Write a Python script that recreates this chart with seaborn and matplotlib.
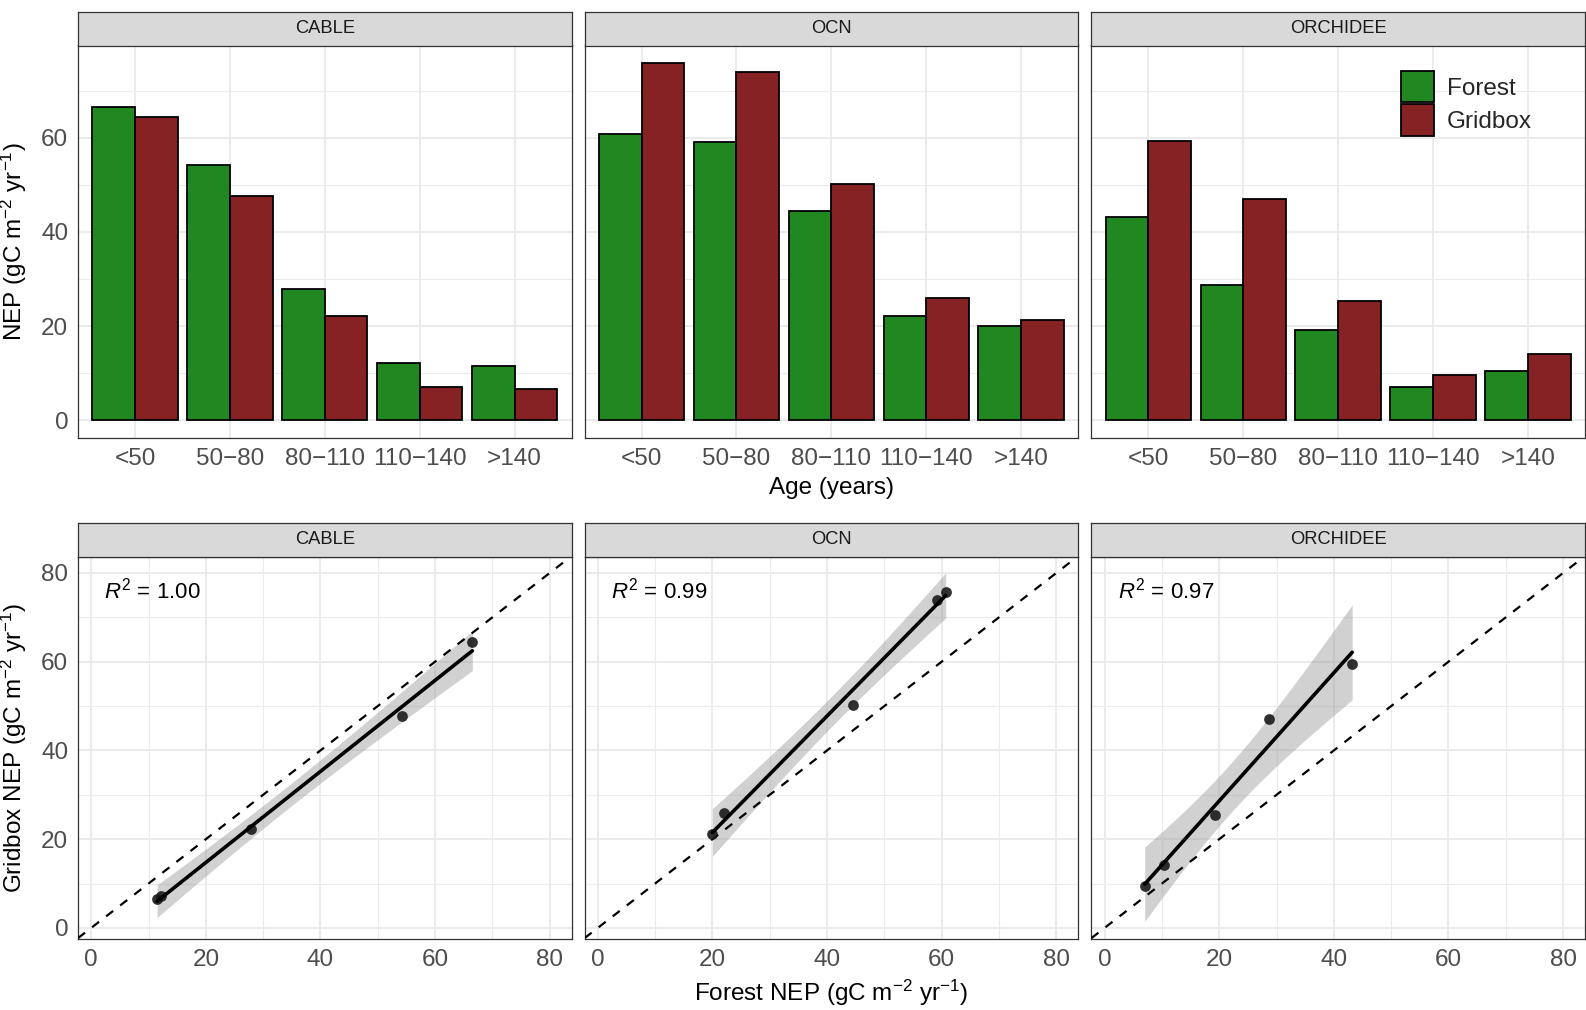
import numpy as np
import pandas as pd
import matplotlib
matplotlib.use("Agg")
import matplotlib.pyplot as plt
import seaborn as sns
from matplotlib.patches import Patch

# ---------------- data ----------------
models = ["CABLE", "OCN", "ORCHIDEE"]
age_classes = ["<50", "50\u221280", "80\u2212110", "110\u2212140", ">140"]
forest_cable = [66.5, 54.3, 27.9, 12.2, 11.5]
gridbox_cable = [64.4, 47.7, 22.2, 7.1, 6.6]
forest_ocn = [60.7, 59.1, 44.5, 22.1, 20.0]
gridbox_ocn = [75.8, 74.0, 50.2, 26.0, 21.2]
forest_orchidee = [43.2, 28.7, 19.2, 7.0, 10.4]
gridbox_orchidee = [59.4, 47.0, 25.4, 9.5, 14.1]
r2_labels = ["1.00", "0.99", "0.97"]
series_names = ["Forest", "Gridbox"]

forest = {"CABLE": forest_cable, "OCN": forest_ocn, "ORCHIDEE": forest_orchidee}
gridbox = {"CABLE": gridbox_cable, "OCN": gridbox_ocn, "ORCHIDEE": gridbox_orchidee}

rows = []
for m in models:
    for a, f, g in zip(age_classes, forest[m], gridbox[m]):
        rows.append(dict(model=m, age=a, type="Forest", nep=f))
        rows.append(dict(model=m, age=a, type="Gridbox", nep=g))
df = pd.DataFrame(rows)

# ---------------- style ----------------
sns.set_theme(style="white")
plt.rcParams["font.family"] = ["Liberation Sans", "DejaVu Sans"]
plt.rcParams["mathtext.fontset"] = "custom"
plt.rcParams["mathtext.rm"] = "Liberation Sans"
plt.rcParams["mathtext.it"] = "Liberation Sans:italic"
plt.rcParams["mathtext.bf"] = "Liberation Sans:bold"

GREEN = "#218821"
RED = "#862224"
BORDER = "#333333"
GRID = "#EBEBEB"
TICKC = "#4D4D4D"
TICK_FS = 17.5
TITLE_FS = 17.5
STRIP_FS = 13.2

W, H = 1586, 1010
fig = plt.figure(figsize=(W / 100, H / 100), dpi=100)

lefts = [78 / W, 584.6 / W, 1091.4 / W]
pw = 493.5 / W
top_bottom, top_h = 1 - 438 / H, (438 - 45.5) / H
bot_bottom, bot_h = 1 - 939 / H, (939 - 557) / H
strip_h_top = (45.5 - 12.1) / H
strip_h_bot = (557 - 523) / H


def style_axes(ax):
    for s in ax.spines.values():
        s.set_color(BORDER)
        s.set_linewidth(0.9)
    ax.set_facecolor("white")
    ax.grid(True, which="major", color=GRID, linewidth=1.4, zorder=0)
    ax.grid(True, which="minor", color=GRID, linewidth=0.8, zorder=0)
    ax.set_axisbelow(True)
    ax.tick_params(axis="both", which="major", colors=BORDER, labelcolor=TICKC,
                   labelsize=TICK_FS, length=4, width=0.9, direction="out", pad=3)
    ax.tick_params(axis="both", which="minor", length=0)


def add_strip(left, bottom, height, label):
    sax = fig.add_axes([left, bottom, pw, height])
    sax.set_facecolor("#D9D9D9")
    sax.set_xticks([])
    sax.set_yticks([])
    for s in sax.spines.values():
        s.set_color(BORDER)
        s.set_linewidth(0.9)
    sax.text(0.5, 0.5, label, ha="center", va="center", fontsize=STRIP_FS,
             color="#1A1A1A", transform=sax.transAxes)


# ---------------- top row: bars ----------------
top_axes = []
for i, m in enumerate(models):
    ax = fig.add_axes([lefts[i], top_bottom, pw, top_h])
    sub = df[df.model == m]
    sns.barplot(data=sub, x="age", y="nep", hue="type", order=age_classes,
                hue_order=series_names, palette=[GREEN, RED], width=0.9,
                saturation=1, edgecolor="black", linewidth=1.3, ax=ax,
                legend=False, zorder=3)
    ax.set_xlim(-0.6, 4.6)
    ax.set_ylim(-3.79, 79.6)
    ax.set_yticks([0, 20, 40, 60])
    ax.set_yticks([10, 30, 50, 70], minor=True)
    style_axes(ax)
    ax.set_xlabel("")
    ax.set_ylabel("")
    if i > 0:
        ax.tick_params(axis="y", which="both", left=False, labelleft=False)
    add_strip(lefts[i], 1 - 45.5 / H, strip_h_top, m)
    top_axes.append(ax)

top_axes[0].set_ylabel(r"NEP (gC m$^{-2}$ yr$^{-1}$)", fontsize=TITLE_FS, color="black")
top_axes[0].yaxis.set_label_coords(-0.100, 0.5)
top_axes[1].set_xlabel("Age (years)", fontsize=TITLE_FS, color="black", labelpad=5)

handles = [Patch(facecolor=GREEN, edgecolor="black", linewidth=1.3),
           Patch(facecolor=RED, edgecolor="black", linewidth=1.3)]
top_axes[2].legend(handles, series_names, loc="upper left",
                   bbox_to_anchor=(0.628, 0.9355), frameon=False, fontsize=TITLE_FS,
                   handlelength=1.33, handleheight=1.62, labelspacing=0.08,
                   handletextpad=0.55, borderpad=0, borderaxespad=0)

# ---------------- bottom row: scatter + regression ----------------
T975_DF3 = 3.182446
bot_axes = []
for i, m in enumerate(models):
    ax = fig.add_axes([lefts[i], bot_bottom, pw, bot_h])
    x = np.array(forest[m])
    y = np.array(gridbox[m])
    n = len(x)
    slope, intercept = np.polyfit(x, y, 1)
    xs = np.linspace(x.min(), x.max(), 100)
    yhat = intercept + slope * xs
    resid = y - (intercept + slope * x)
    s = np.sqrt(np.sum(resid ** 2) / (n - 2))
    sxx = np.sum((x - x.mean()) ** 2)
    se = s * np.sqrt(1 / n + (xs - x.mean()) ** 2 / sxx)
    ax.fill_between(xs, yhat - T975_DF3 * se, yhat + T975_DF3 * se,
                    color="#999999", alpha=0.45, linewidth=0, zorder=2)
    ax.axline((0, 0), slope=1, color="black", linestyle=(0, (4, 4)),
              linewidth=1.6, zorder=3)
    sns.regplot(x=x, y=y, ci=None, truncate=True, ax=ax,
                scatter_kws=dict(s=60, color="#1a1a1a", alpha=0.9, linewidths=0, zorder=4),
                line_kws=dict(color="black", linewidth=2.6, zorder=5))
    ax.set_xlim(-2.3, 83.8)
    ax.set_ylim(-2.5, 83.6)
    ax.set_xticks([0, 20, 40, 60, 80])
    ax.set_xticks([10, 30, 50, 70], minor=True)
    ax.set_yticks([0, 20, 40, 60, 80])
    ax.set_yticks([10, 30, 50, 70], minor=True)
    style_axes(ax)
    ax.set_xlabel("")
    ax.set_ylabel("")
    if i > 0:
        ax.tick_params(axis="y", which="both", left=False, labelleft=False)
    ax.text(0.053, 0.912, r"$R^2$ = " + r2_labels[i], transform=ax.transAxes,
            ha="left", va="center", fontsize=16, color="black")
    add_strip(lefts[i], 1 - 557 / H, strip_h_bot, m)
    bot_axes.append(ax)

bot_axes[0].set_ylabel(r"Gridbox NEP (gC m$^{-2}$ yr$^{-1}$)", fontsize=TITLE_FS, color="black")
bot_axes[0].yaxis.set_label_coords(-0.100, 0.5)
bot_axes[1].set_xlabel(r"Forest NEP (gC m$^{-2}$ yr$^{-1}$)", fontsize=TITLE_FS,
                       color="black", labelpad=5)

fig.savefig("out.png", dpi=100, facecolor="white")
